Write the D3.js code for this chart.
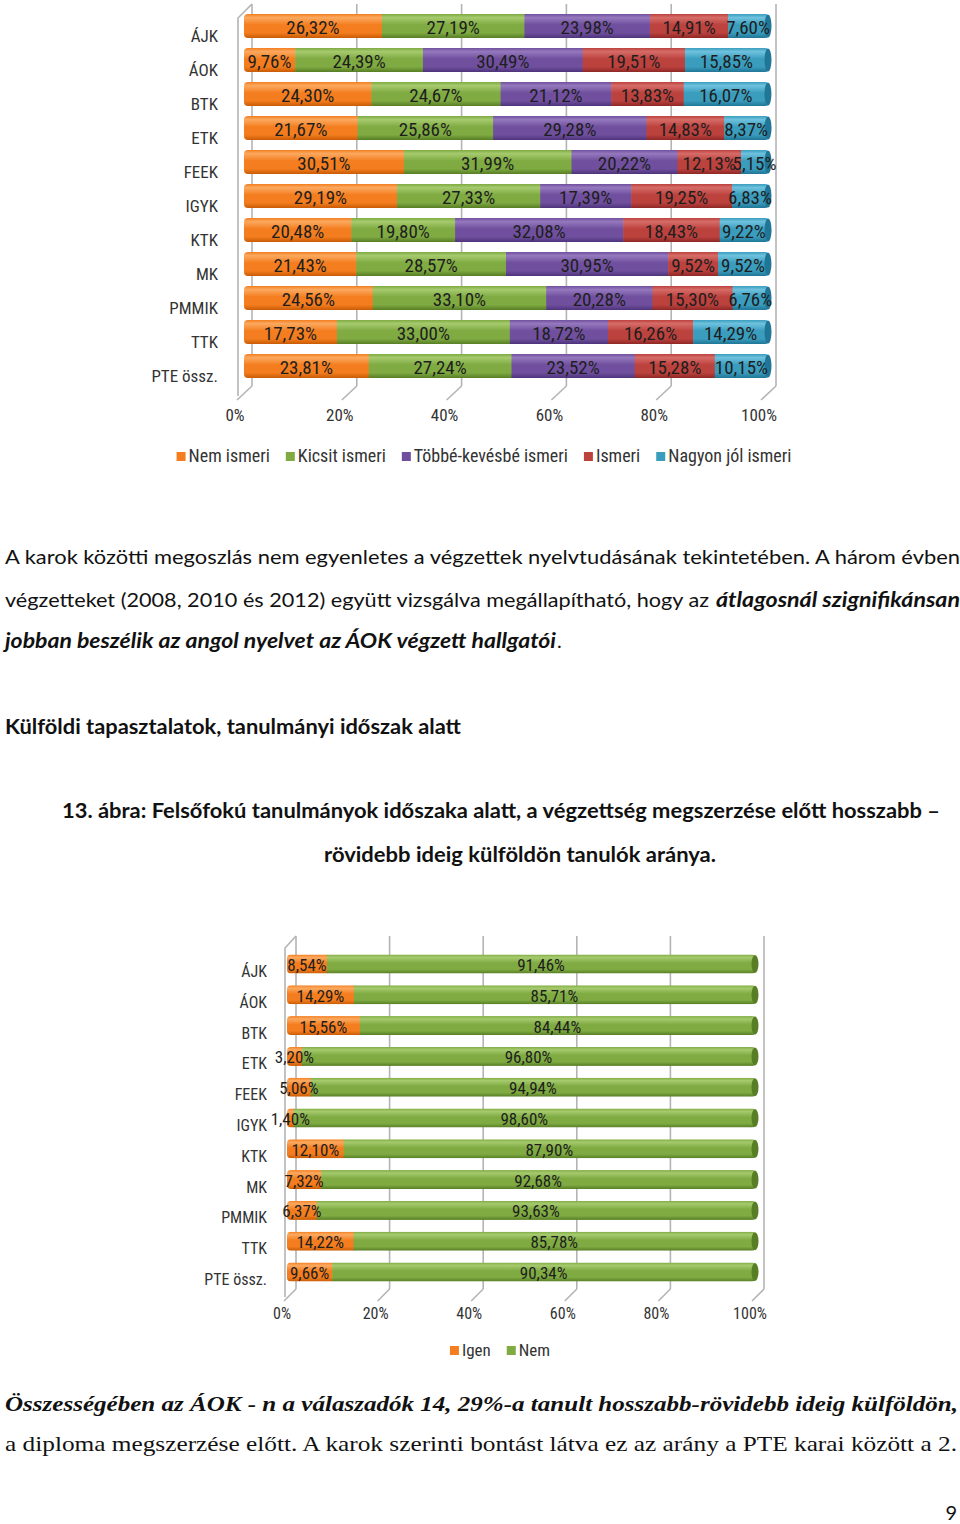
<!DOCTYPE html>
<html><head><meta charset="utf-8">
<script src="https://cdn.jsdelivr.net/npm/d3@7"></script>
<style>body{margin:0;background:#fff} svg{display:block}</style>
</head><body>
<svg id="page" width="960" height="1524"></svg>
<script>
// ---------------- DATA ----------------
const faculties = ["ÁJK","ÁOK","BTK","ETK","FEEK","IGYK","KTK","MK","PMMIK","TTK","PTE össz."];
const langSeries = ["Nem ismeri","Kicsit ismeri","Többé-kevésbé ismeri","Ismeri","Nagyon jól ismeri"];
const nemIsmeri    = [26.32, 9.76,24.30,21.67,30.51,29.19,20.48,21.43,24.56,17.73,23.81];
const kicsitIsmeri = [27.19,24.39,24.67,25.86,31.99,27.33,19.80,28.57,33.10,33.00,27.24];
const tobbeKevesbe = [23.98,30.49,21.12,29.28,20.22,17.39,32.08,30.95,20.28,18.72,23.52];
const ismeri       = [14.91,19.51,13.83,14.83,12.13,19.25,18.43, 9.52,15.30,16.26,15.28];
const nagyonJol    = [ 7.60,15.85,16.07, 8.37, 5.15, 6.83, 9.22, 9.52, 6.76,14.29,10.15];
const abroadSeries = ["Igen","Nem"];
const igen = [ 8.54,14.29,15.56, 3.20, 5.06, 1.40,12.10, 7.32, 6.37,14.22, 9.66];
const nem  = [91.46,85.71,84.44,96.80,94.94,98.60,87.90,92.68,93.63,85.78,90.34];
const tickValues = [0,20,40,60,80,100];

// ---------------- STYLE ----------------
const palette = {
  "Nem ismeri":          {base:"#F47E1F", light:"#FBA960", dark:"#C95B05"},
  "Kicsit ismeri":       {base:"#7FAB42", light:"#A6CA6E", dark:"#587E25"},
  "Többé-kevésbé ismeri":{base:"#70509E", light:"#9578BE", dark:"#4E337C"},
  "Ismeri":              {base:"#BC423E", light:"#D66C68", dark:"#8F2825"},
  "Nagyon jól ismeri":   {base:"#3A9DBE", light:"#6FC2DE", dark:"#207696"},
  "Igen":                {base:"#F47E1F", light:"#FBA960", dark:"#C95B05"},
  "Nem":                 {base:"#7FAB42", light:"#A6CA6E", dark:"#587E25"}
};
const chartFont = "'Liberation Sans Narrow','Arial Narrow','Roboto Condensed',Roboto,sans-serif";
const bodyFont = "Lato,'Open Sans',sans-serif";
const serifFont = "'Liberation Serif','DejaVu Serif',serif";

const locale = d3.formatLocale({decimal:",", thousands:" ", grouping:[3], currency:["",""]});
const fmtPct = v => locale.format(".2f")(v) + "%";

const svg = d3.select("#page");
svg.append("rect").attr("width",960).attr("height",1524).attr("fill","#fff");
const defs = svg.append("defs");
Object.entries(palette).forEach(([k,c],i)=>{
  const g = defs.append("linearGradient").attr("id","grad"+i).attr("x1",0).attr("y1",0).attr("x2",0).attr("y2",1);
  g.append("stop").attr("offset","0%").attr("stop-color",c.base);
  g.append("stop").attr("offset","15%").attr("stop-color",c.light);
  g.append("stop").attr("offset","45%").attr("stop-color",c.base);
  g.append("stop").attr("offset","78%").attr("stop-color",c.base);
  g.append("stop").attr("offset","100%").attr("stop-color",c.dark);
  c.grad = "url(#grad"+i+")";
});

function drawChart(cfg){
  const g = svg.append("g");
  const xf = d3.scaleLinear().domain([0,100]).range(cfg.xRange);   // front floor edge
  const xb = v => xf(v) + cfg.depthX;                                // back wall
  const xm = v => xf(v) + cfg.barX;                                  // bar depth
  const y = d3.scalePoint().domain(faculties).range(cfg.yRange);

  // walls / gridlines
  const grid = g.append("g").attr("stroke","#b4b4b4").attr("stroke-width",1.6).attr("fill","none");
  tickValues.forEach(t=>{
    grid.append("line").attr("x1",xb(t)).attr("x2",xb(t)).attr("y1",cfg.wallTop).attr("y2",cfg.floorBack);
    grid.append("line").attr("x1",xb(t)).attr("x2",xf(t)+2).attr("y1",cfg.floorBack).attr("y2",cfg.floorFront);
  });
  grid.append("path").attr("d",`M${xb(0)},${cfg.wallTop} L${xf(0)+3},${cfg.wallTop+cfg.floorFront-cfg.floorBack} L${xf(0)+3},${cfg.floorFront-4}`);

  // stacked bars
  const table = faculties.map((f,i)=>{const o={fac:f}; cfg.series.forEach((s,j)=>o[s]=cfg.values[j][i]); return o;});
  const stacked = d3.stack().keys(cfg.series)(table);
  const h = cfg.barH;
  faculties.forEach((f,i)=>{
    const cid = "clip"+cfg.id+i;
    const total = stacked[stacked.length-1][i][1];
    defs.append("clipPath").attr("id",cid).append("rect")
      .attr("x",xm(0)).attr("y",y(f)-h/2).attr("width",xm(total)-xm(0)+1).attr("height",h).attr("rx",4);
    const bar = g.append("g").attr("clip-path",`url(#${cid})`);
    stacked.forEach(layer=>{
      const d = layer[i];
      bar.append("rect").attr("x",xm(d[0])).attr("y",y(f)-h/2)
        .attr("width",Math.max(0,xm(d[1])-xm(d[0])+0.6)).attr("height",h)
        .attr("fill",palette[layer.key].grad);
    });
    const last = palette[cfg.series[cfg.series.length-1]];
    g.append("ellipse").attr("cx",xm(total)).attr("cy",y(f)).attr("rx",3.5).attr("ry",h/2-0.5)
      .attr("fill",last.dark);
  });
  // data labels
  stacked.forEach(layer=>{
    layer.forEach((d,i)=>{
      g.append("text").attr("x",(xm(d[0])+xm(d[1]))/2).attr("y",y(faculties[i])+cfg.labelDY)
        .attr("text-anchor","middle").attr("font-family",chartFont).attr("font-size",cfg.labelFs)
        .attr("fill","#1e1e1e").text(fmtPct(d.data[layer.key]));
    });
  });
  // category labels
  faculties.forEach(f=>{
    g.append("text").attr("x",cfg.catX).attr("y",y(f)+cfg.catDY).attr("text-anchor","end")
      .attr("font-family",chartFont).attr("font-size",cfg.fs).attr("fill","#333").text(f);
  });
  // tick labels
  tickValues.forEach(t=>{
    g.append("text").attr("x",xf(t)).attr("y",cfg.tickY).attr("text-anchor","middle")
      .attr("font-family",chartFont).attr("font-size",cfg.fs).attr("fill","#333").text(t+"%");
  });
  // legend
  const lg = g.append("g");
  let cx = 0;
  cfg.series.forEach(s=>{
    const it = lg.append("g").attr("transform",`translate(${cx},0)`);
    it.append("rect").attr("x",0).attr("y",-5).attr("width",9).attr("height",9).attr("fill",palette[s].base);
    const t = it.append("text").attr("x",12).attr("y",5).attr("font-family",chartFont)
      .attr("font-size",cfg.legendFs).attr("fill","#333").text(s);
    cx += 12 + t.node().getComputedTextLength() + cfg.legendGap;
  });
  const wid = cx - cfg.legendGap;
  lg.attr("transform",`translate(${cfg.legendCX - wid/2},${cfg.legendY})`);
}

drawChart({id:"a", series:langSeries, values:[nemIsmeri,kicsitIsmeri,tobbeKevesbe,ismeri,nagyonJol],
  xRange:[235,759], depthX:17, barX:9, yRange:[26,366], barH:24, wallTop:4, floorBack:386, floorFront:400,
  labelDY:8, catX:218, catDY:16, tickY:421, fs:17, labelFs:19, legendFs:18, legendCX:484, legendY:457, legendGap:16});

drawChart({id:"b", series:abroadSeries, values:[igen,nem],
  xRange:[282,750], depthX:14, barX:5, yRange:[964,1272], barH:19, wallTop:936, floorBack:1289, floorFront:1301,
  labelDY:7, catX:267, catDY:13, tickY:1319, fs:16, labelFs:17, legendFs:17, legendCX:500, legendY:1351, legendGap:16});

// ---------------- BODY TEXT ----------------
function line(txt, x, yb, len, opts={}){
  const t = svg.append("text").attr("x",x).attr("y",yb)
    .attr("font-family",opts.font||bodyFont).attr("font-size",opts.fs||20)
    .attr("font-weight",opts.bold?"bold":"normal").attr("font-style",opts.italic?"italic":"normal")
    .attr("fill","#111").text(txt);
  if(len){ t.attr("textLength",len).attr("lengthAdjust","spacingAndGlyphs"); }
  return t;
}
line("A karok közötti megoszlás nem egyenletes a végzettek nyelvtudásának tekintetében. A három évben",5,564,955);
line("végzetteket (2008, 2010 és 2012) együtt vizsgálva megállapítható, hogy az",5,607,704);
line("átlagosnál szignifikánsan",716,607,244,{bold:true,italic:true});
line("jobban beszélik az angol nyelvet az ÁOK végzett hallgatói",5,648,551,{bold:true,italic:true});
line(".",557,648,null);
line("Külföldi tapasztalatok, tanulmányi időszak alatt",5,734,456,{bold:true});
line("13. ábra: Felsőfokú tanulmányok időszaka alatt, a végzettség megszerzése előtt hosszabb –",62,818,878,{bold:true});
line("rövidebb ideig külföldön tanulók aránya.",324,862,392,{bold:true});
line("Összességében az ÁOK - n a válaszadók 14, 29%-a tanult hosszabb-rövidebb ideig külföldön,",5,1411,953,{bold:true,italic:true,font:serifFont,fs:22});
line("a diploma megszerzése előtt. A karok szerinti bontást látva ez az arány a PTE karai között a 2.",5,1451,952,{font:serifFont,fs:22});
svg.append("text").attr("x",957).attr("y",1520).attr("text-anchor","end").attr("font-family",bodyFont)
  .attr("font-size",20).attr("fill","#111").text("9");
</script>
</body></html>
